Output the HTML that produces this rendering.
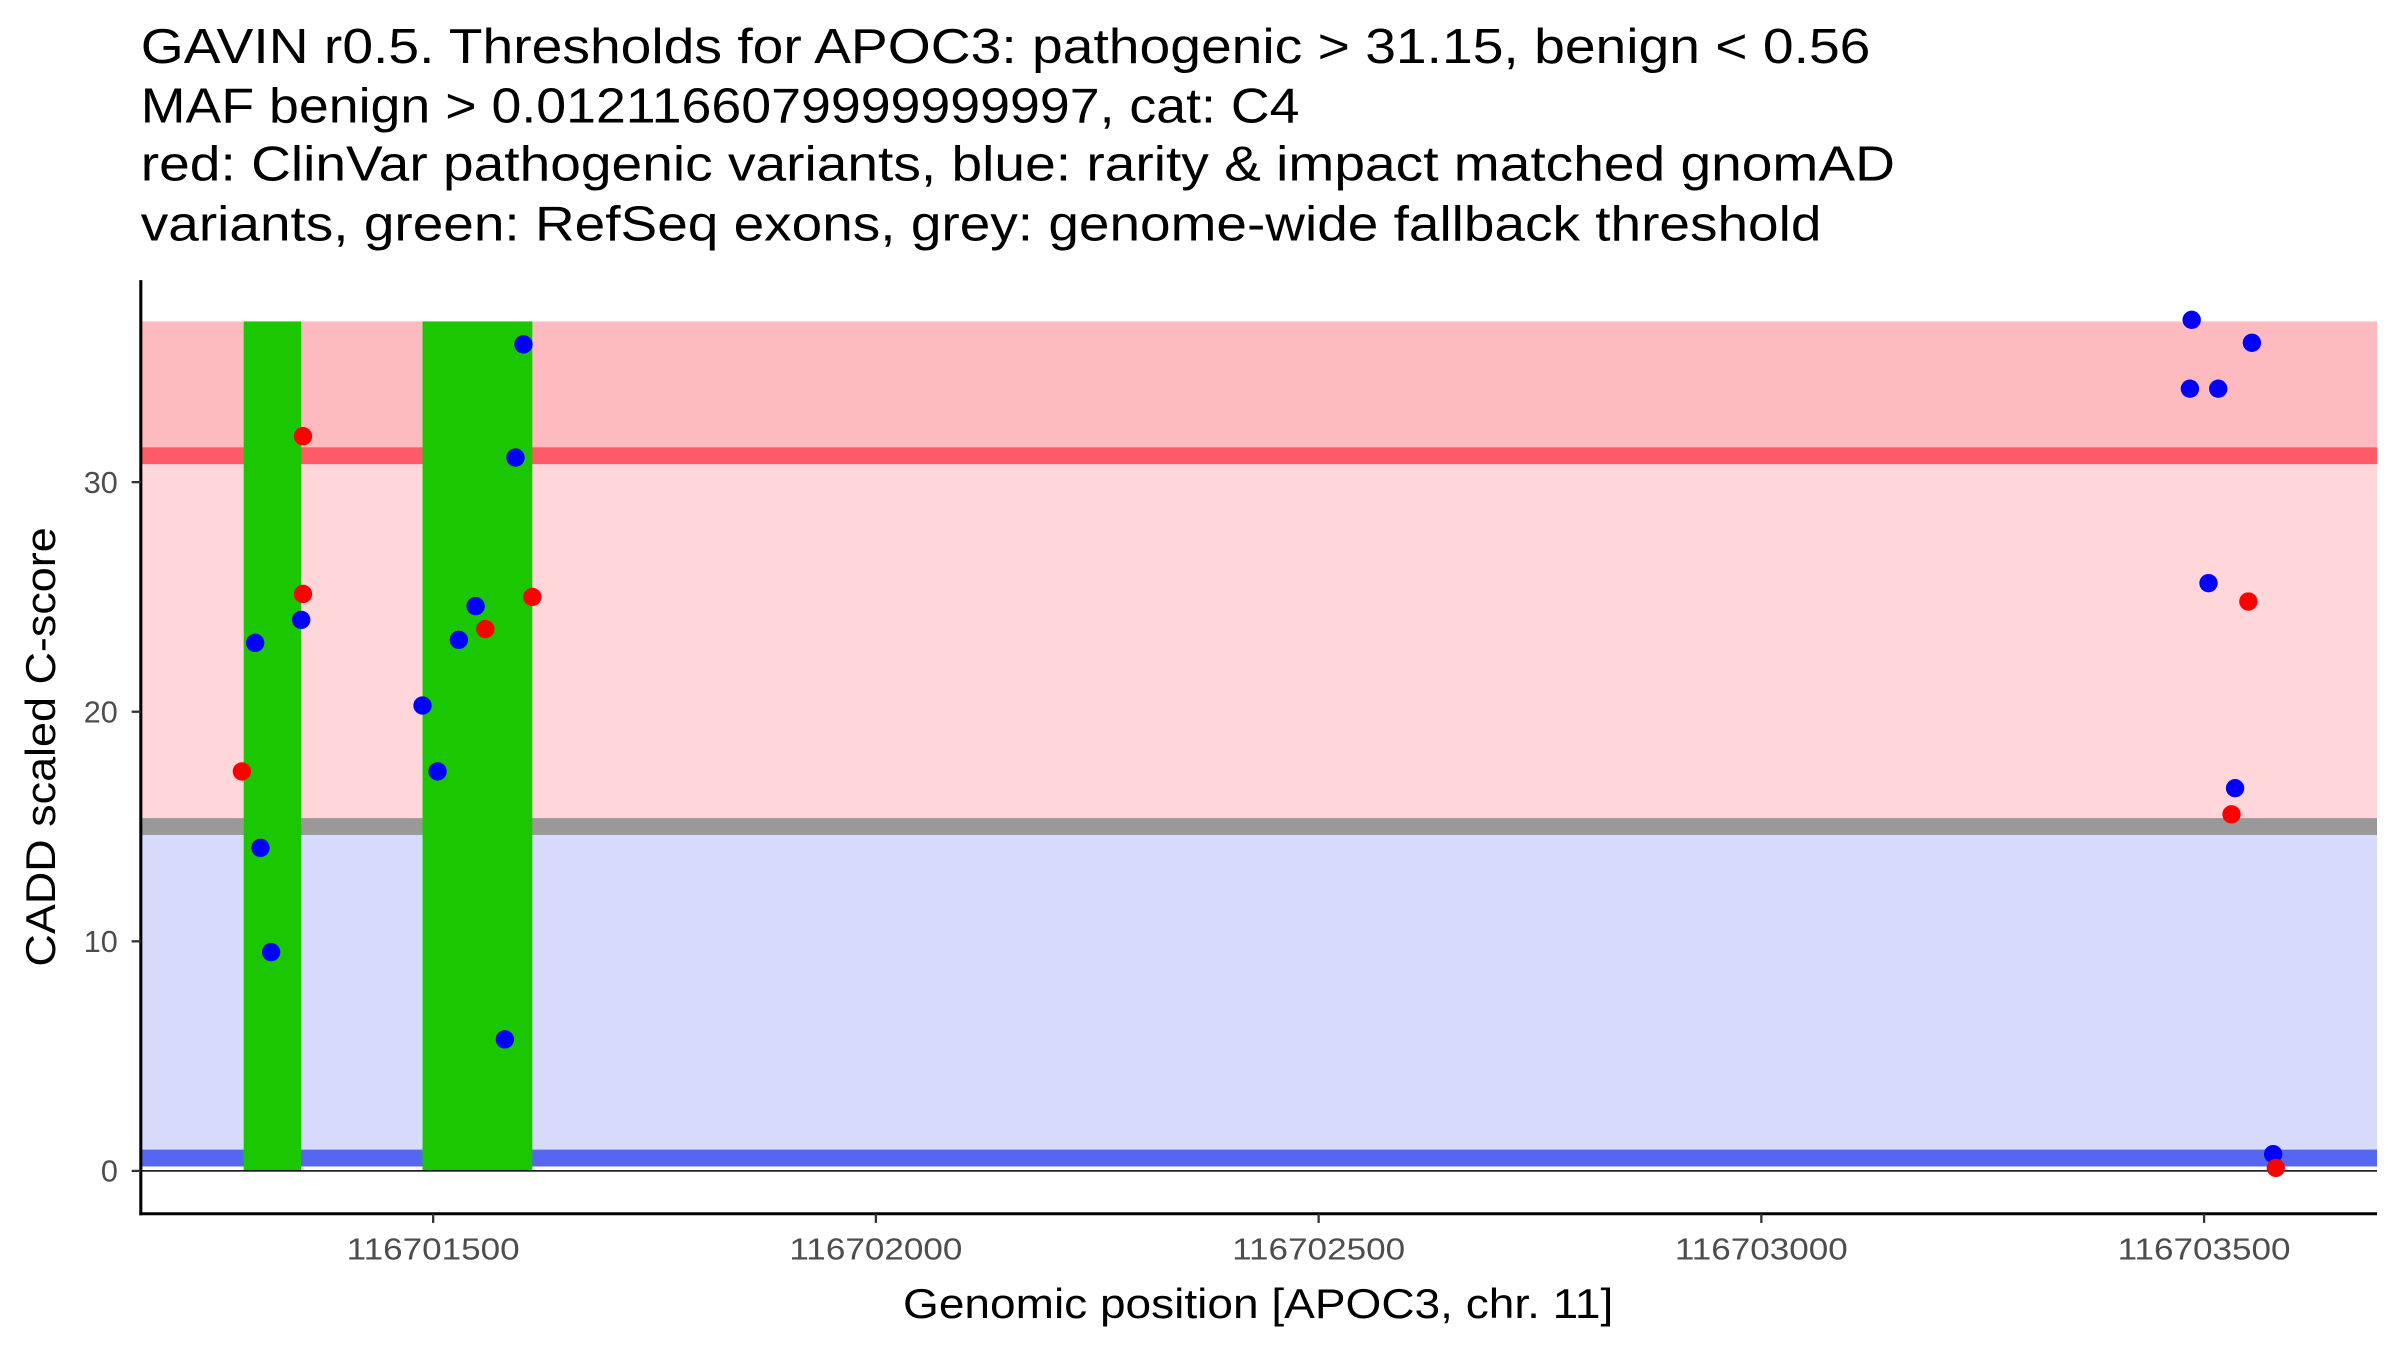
<!DOCTYPE html>
<html><head><meta charset="utf-8"><style>
html,body{margin:0;padding:0;background:#fff;}
svg{display:block;font-family:"Liberation Sans",Arial,sans-serif;}
</style></head><body>
<svg id="chart" width="2400" height="1350" viewBox="0 0 1568 882" preserveAspectRatio="none" xmlns="http://www.w3.org/2000/svg">
<g font-size="32" fill="#000" lengthAdjust="spacingAndGlyphs">
<text x="92" y="41" textLength="1130" lengthAdjust="spacingAndGlyphs">GAVIN r0.5. Thresholds for APOC3: pathogenic &gt; 31.15, benign &lt; 0.56</text>
<text x="92" y="80" textLength="757" lengthAdjust="spacingAndGlyphs">MAF benign &gt; 0.0121166079999999997, cat: C4</text>
<text x="92" y="118" textLength="1146" lengthAdjust="spacingAndGlyphs">red: ClinVar pathogenic variants, blue: rarity &amp; impact matched gnomAD</text>
<text x="92" y="157" textLength="1098" lengthAdjust="spacingAndGlyphs">variants, green: RefSeq exons, grey: genome-wide fallback threshold</text>
</g>
<g id="plot"></g>
</svg>
<script>
const xTicks = [116701500, 116702000, 116702500, 116703000, 116703500];
const yTicks = [0, 10, 20, 30];
const exonStarts = [116701286, 116701488];
const exonEnds = [116701351, 116701612];
const pathThreshold = 31.15;
const benignThreshold = 0.56;
const fallbackThreshold = 15;
const scoreMax = 37;
const redPos = [116701284,116701353,116701353,116701559,116701612,116703550,116703531,116703581];
const redScore = [17.4,32.0,25.13,23.6,25.0,24.8,15.53,0.13];
const bluePos = [116701299,116701305,116701317,116701351,116701488,116701505,116701529,116701548,116701581,116701593,116701602,116703486,116703484,116703516,116703554,116703505,116703535,116703578];
const blueScore = [23.0,14.07,9.53,24.0,20.27,17.4,23.13,24.6,5.73,31.07,36.0,37.07,34.07,34.07,36.07,25.6,16.67,0.73];

const NS = "http://www.w3.org/2000/svg";
const g = document.getElementById('plot');
const X0 = 92, X1 = 1553;
const xs = v => 283 + (v - 116701500) * 0.5785;
const ys = v => 765 - v * 15;
function mk(tag, attrs){ const e = document.createElementNS(NS, tag); for (const k in attrs) e.setAttribute(k, attrs[k]); g.appendChild(e); return e; }

let e;
e = mk('rect',{x:X0,y:ys(scoreMax),width:X1-X0,height:ys(pathThreshold)-ys(scoreMax),fill:'#FDBBC0'});


e = mk('rect',{x:X0,y:ys(pathThreshold),width:X1-X0,height:ys(fallbackThreshold)-ys(pathThreshold),fill:'#FFD7DB'});


e = mk('rect',{x:X0,y:ys(fallbackThreshold),width:X1-X0,height:ys(benignThreshold)-ys(fallbackThreshold),fill:'#D7DAFB'});


e = mk('rect',{x:X0,y:ys(pathThreshold)-5.5,width:X1-X0,height:11,fill:'#FF5A68'});


e = mk('rect',{x:X0,y:ys(fallbackThreshold)-5.5,width:X1-X0,height:11,fill:'#999999'});


e = mk('rect',{x:X0,y:ys(benignThreshold)-5.5,width:X1-X0,height:11,fill:'#5566F0'});



for (let i=0;i<exonStarts.length;i++){
  e = mk('rect',{x:xs(exonStarts[i]),y:ys(scoreMax),width:xs(exonEnds[i])-xs(exonStarts[i]),height:ys(0)-ys(scoreMax),fill:'#1AC700'});
  
  
}
e = mk('line',{x1:X0,x2:X1,y1:ys(0),y2:ys(0),stroke:'#000','stroke-width':1});



for (let i=0;i<bluePos.length;i++){
  e = mk('circle',{cx:xs(bluePos[i]),cy:ys(blueScore[i]),r:6,fill:'#0000FF'});
  
  
}
for (let i=0;i<redPos.length;i++){
  e = mk('circle',{cx:xs(redPos[i]),cy:ys(redScore[i]),r:6,fill:'#FF0000'});
  
  
}

e = mk('line',{x1:X0,x2:X0,y1:183,y2:794,stroke:'#000','stroke-width':2});


e = mk('line',{x1:X0-1,x2:X1,y1:793,y2:793,stroke:'#000','stroke-width':2});



for (const t of yTicks){
  e = mk('line',{x1:X0-6,x2:X0,y1:ys(t),y2:ys(t),stroke:'#333','stroke-width':1.5});
  
  
  e = mk('text',{x:X0-15,y:ys(t)+7,'text-anchor':'end','font-size':20,fill:'#4d4d4d'});
  e.textContent = t;
  
  
}
for (const t of xTicks){
  e = mk('line',{x1:xs(t),x2:xs(t),y1:793,y2:799,stroke:'#333','stroke-width':1.5});
  
  
  e = mk('text',{x:xs(t),y:823,'text-anchor':'middle','font-size':20,fill:'#4d4d4d',textLength:113,lengthAdjust:'spacingAndGlyphs'});
  e.textContent = t;
  
  
}
e = mk('text',{x:822,y:861,'text-anchor':'middle','font-size':27,fill:'#000',textLength:464,lengthAdjust:'spacingAndGlyphs'});
e.textContent = 'Genomic position [APOC3, chr. 11]';


e = mk('text',{x:0,y:0,'text-anchor':'middle','font-size':27,fill:'#000',textLength:287,lengthAdjust:'spacingAndGlyphs',transform:'translate(36,488) rotate(-90)'});
e.textContent = 'CADD scaled C-score';


</script>
</body></html>
